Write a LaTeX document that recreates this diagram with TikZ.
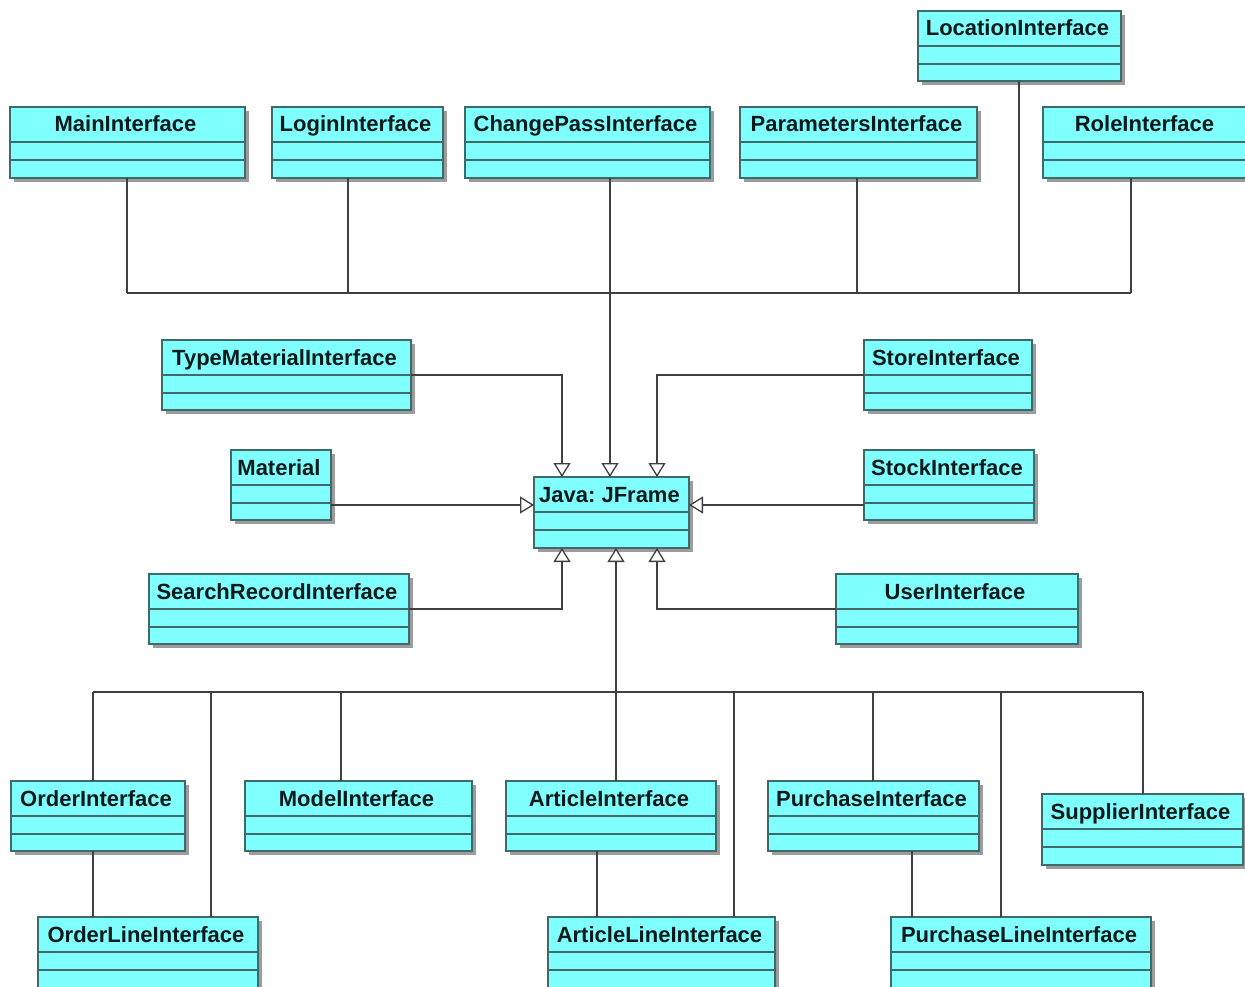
\documentclass[tikz,border=0pt]{standalone}
\usepackage{fontspec}
\setmainfont{Liberation Sans}
\usetikzlibrary{arrows.meta}

\definecolor{clsfill}{HTML}{80FFFF}
\definecolor{clsdraw}{HTML}{3E6A6A}
\definecolor{clsshadow}{HTML}{9C9C9C}
\definecolor{wire}{HTML}{404040}
\definecolor{clstext}{HTML}{0A1A1A}

\tikzset{
  clsbox/.style={draw=clsdraw, fill=clsfill, line width=1.2pt,
    inner sep=0pt, outer sep=0pt, anchor=north west},
  clstitle/.style={anchor=base, inner sep=0pt, text=clstext,
    font=\fontsize{22}{24}\selectfont\bfseries\frenchspacing},
  wireline/.style={draw=wire, line width=1.5pt},
  inherit/.style={wireline, -{Triangle[open, length=14pt, width=17pt, fill=white, line width=1.3pt]}},
}

% \umlclass{name}{left}{top}{right}{bottom}{title}
\newcommand{\umlclass}[6]{%
  \fill[clsshadow] (#2+4,#3+4) rectangle (#4+4,#5+4);
  \node[clsbox, minimum width={(#4-#2)*1pt}, minimum height={(#5-#3)*1pt}] (#1) at (#2,#3) {};
  \draw[draw=clsdraw, line width=1.2pt] (#2,#3+35) -- (#4,#3+35) (#2,#3+53) -- (#4,#3+53);
  \path (#1.north) ++(-2,25) node[clstitle] (#1-t) {#6};
}

\begin{document}
\begin{tikzpicture}[x=1pt, y=-1pt]
\useasboundingbox (0,0) rectangle (1245,987);

% bus junction ends
\coordinate (tbL) at (127,293);
\coordinate (tbR) at (1131,293);
\coordinate (bbL) at (93,692);
\coordinate (bbR) at (1143,692);

% classes
\umlclass{location}{918}{11}{1121}{81}{LocationInterface}
\umlclass{main}{10}{107}{245}{178}{MainInterface}
\umlclass{login}{272}{107}{443}{178}{LoginInterface}
\umlclass{cpass}{465}{107}{710}{178}{ChangePassInterface}
\umlclass{params}{740}{107}{977}{178}{ParametersInterface}
\umlclass{role}{1043}{107}{1250}{178}{RoleInterface}

\umlclass{typemat}{162}{340}{411}{410}{TypeMaterialInterface}
\umlclass{store}{864}{340}{1032}{410}{StoreInterface}
\umlclass{material}{231}{450}{331}{520}{Material}
\umlclass{stock}{864}{450}{1034}{520}{StockInterface}
\umlclass{jframe}{534}{477}{689}{548}{Java: JFrame}
\umlclass{search}{149}{574}{409}{644}{SearchRecordInterface}
\umlclass{user}{836}{574}{1078}{644}{UserInterface}

\umlclass{order}{11}{781}{185}{851}{OrderInterface}
\umlclass{model}{245}{781}{472}{851}{ModelInterface}
\umlclass{article}{506}{781}{716}{851}{ArticleInterface}
\umlclass{purchase}{768}{781}{979}{851}{PurchaseInterface}
\umlclass{supplier}{1042}{794}{1243}{865}{SupplierInterface}

\umlclass{orderline}{38}{917}{258}{995}{OrderLineInterface}
\umlclass{articleline}{548}{917}{775}{995}{ArticleLineInterface}
\umlclass{purchaseline}{891}{917}{1151}{995}{PurchaseLineInterface}

% ---- upper group ----
\draw[wireline] (tbL) -- (tbR);
\draw[wireline] (main.south -| tbL) -- (tbL);
\draw[wireline] (login.south -| 348,0) -- (348,0 |- tbL);
\draw[wireline] (params.south -| 857,0) -- (857,0 |- tbL);
\draw[wireline] (location.south -| 1019,0) -- (1019,0 |- tbL);
\draw[wireline] (role.south -| tbR) -- (tbR);
\draw[inherit] (cpass.south -| 610,0) -- (jframe.north -| 610,0);

% ---- side classes ----
\draw[inherit] (typemat.east) -| (jframe.north -| 562,0);
\draw[inherit] (store.west) -| (jframe.north -| 657,0);
\draw[inherit] (material.east |- 0,505) -- (jframe.west |- 0,505);
\draw[inherit] (stock.west |- 0,505) -- (jframe.east |- 0,505);
\draw[inherit] (search.east) -| (jframe.south -| 562,0);
\draw[inherit] (user.west) -| (jframe.south -| 657,0);

% ---- lower group ----
\draw[wireline] (bbL) -- (bbR);
\draw[inherit] (616,0 |- bbL) -- (jframe.south -| 616,0);
\draw[wireline] (bbL) -- (order.north -| bbL);
\draw[wireline] (211,0 |- bbL) -- (orderline.north -| 211,0);
\draw[wireline] (341,0 |- bbL) -- (model.north -| 341,0);
\draw[wireline] (616,0 |- bbL) -- (article.north -| 616,0);
\draw[wireline] (734,0 |- bbL) -- (articleline.north -| 734,0);
\draw[wireline] (873,0 |- bbL) -- (purchase.north -| 873,0);
\draw[wireline] (1001,0 |- bbL) -- (purchaseline.north -| 1001,0);
\draw[wireline] (bbR) -- (supplier.north -| bbR);

\draw[wireline] (order.south -| 93,0) -- (orderline.north -| 93,0);
\draw[wireline] (article.south -| 597,0) -- (articleline.north -| 597,0);
\draw[wireline] (purchase.south -| 912,0) -- (purchaseline.north -| 912,0);
\end{tikzpicture}
\end{document}
